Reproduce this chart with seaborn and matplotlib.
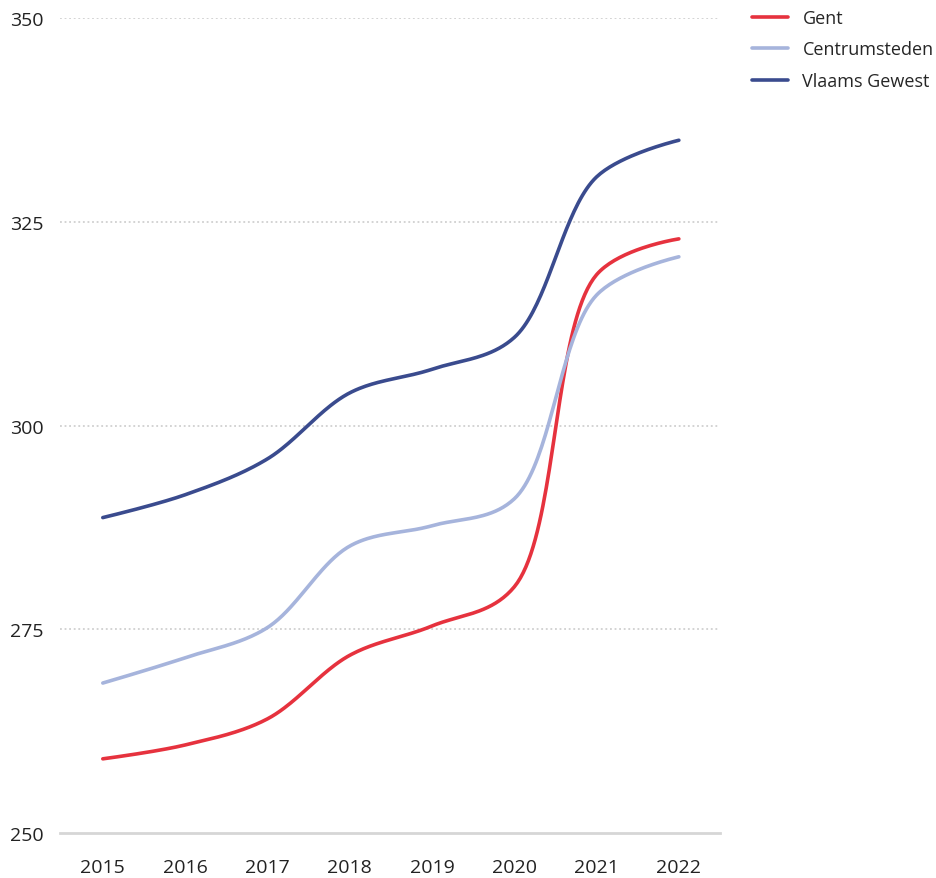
import numpy as np
import pandas as pd
import matplotlib
matplotlib.use("Agg")
import matplotlib.pyplot as plt
import seaborn as sns

years = [2015, 2016, 2017, 2018, 2019, 2020, 2021, 2022]
gent = [259.1, 260.8, 264.0, 271.8, 275.4, 280.2, 318.5, 322.9]
centrumsteden = [268.4, 271.5, 275.2, 285.2, 287.7, 291.0, 316.0, 320.7]
vlaams_gewest = [288.7, 291.5, 295.9, 304.0, 306.9, 310.8, 330.5, 335.0]
series_names = ["Gent", "Centrumsteden", "Vlaams Gewest"]
colors = {"Gent": "#e6323e", "Centrumsteden": "#a6b4dc", "Vlaams Gewest": "#3a4b8e"}
y_ticks = [250, 275, 300, 325, 350]

# approximate screen scale (px per data unit) used only for the centripetal spline
SX, SY = 82.3, 8.15


def catmull_rom(xv, yv, alpha=0.5, n=40):
    """Centripetal Catmull-Rom curve (same construction as d3.curveCatmullRom)."""
    P = np.column_stack([np.asarray(xv, float) * SX, np.asarray(yv, float) * SY])
    N = len(P)
    segs = []
    for i in range(N - 1):
        p1, p2 = P[i], P[i + 1]
        p0 = P[i - 1] if i > 0 else None
        p3 = P[i + 2] if i + 2 < N else None
        l12 = np.linalg.norm(p2 - p1)
        l12_a, l12_2a = l12 ** alpha, l12 ** (2 * alpha)
        c1 = p1.copy()
        if p0 is not None:
            l01 = np.linalg.norm(p1 - p0)
            l01_a, l01_2a = l01 ** alpha, l01 ** (2 * alpha)
            a = 2 * l01_2a + 3 * l01_a * l12_a + l12_2a
            nn = 3 * l01_a * (l01_a + l12_a)
            c1 = (p1 * a - p0 * l12_2a + p2 * l01_2a) / nn
        c2 = p2.copy()
        if p3 is not None:
            l23 = np.linalg.norm(p3 - p2)
            l23_a, l23_2a = l23 ** alpha, l23 ** (2 * alpha)
            b = 2 * l23_2a + 3 * l23_a * l12_a + l12_2a
            m = 3 * l23_a * (l23_a + l12_a)
            c2 = (p2 * b + p1 * l23_2a - p3 * l12_2a) / m
        t = np.linspace(0, 1, n, endpoint=(i == N - 2))[:, None]
        B = ((1 - t) ** 3) * p1 + 3 * ((1 - t) ** 2) * t * c1 + 3 * (1 - t) * t ** 2 * c2 + t ** 3 * p2
        segs.append(B)
    C = np.vstack(segs)
    return C[:, 0] / SX, C[:, 1] / SY


rows = []
for name, vals in zip(series_names, [gent, centrumsteden, vlaams_gewest]):
    xs, ys = catmull_rom(years, vals)
    for a, b in zip(xs, ys):
        rows.append({"year": a, "value": b, "series": name})
df = pd.DataFrame(rows)

sns.set_theme(style="white")
plt.rcParams["font.family"] = ["Open Sans", "DejaVu Sans"]

fig = plt.figure(figsize=(9.37, 8.79), dpi=100)
ax = fig.add_axes([60 / 937, 1 - 834 / 879, 660 / 937, 815 / 879])

sns.lineplot(data=df, x="year", y="value", hue="series", hue_order=series_names,
             palette=colors, linewidth=2.6, ax=ax, sort=False, estimator=None)

ax.set_xlim(2014.48, 2022.5)
ax.set_ylim(250, 350)
ax.set_yticks(y_ticks)
ax.set_yticklabels([str(v) for v in y_ticks], fontsize=14, color="#222222")
ax.set_xticks(years)
ax.set_xticklabels([str(y) for y in years], fontsize=14, color="#222222")
ax.tick_params(axis="both", length=0)
ax.tick_params(axis="x", pad=18)
for lab in ax.get_yticklabels():
    lab.set_horizontalalignment("left")
ax.yaxis.set_tick_params(pad=36)
for t in y_ticks[1:]:
    ax.axhline(t, color="#c8c8c8", linestyle=(0, (1.2, 1.8)), linewidth=1.1, zorder=0)
for s in ["top", "right", "left"]:
    ax.spines[s].set_visible(False)
ax.spines["bottom"].set_color("#d6d6d6")
ax.spines["bottom"].set_linewidth(2)
ax.set_xlabel("")
ax.set_ylabel("")

handles, labels = ax.get_legend_handles_labels()
ax.legend(handles, labels, loc="upper left", bbox_to_anchor=(742 / 937, 1.0),
          bbox_transform=fig.transFigure, frameon=False, fontsize=13,
          handlelength=2.0, handletextpad=0.8, labelspacing=0.75, borderaxespad=0.15)

fig.savefig("out.png", dpi=100)
